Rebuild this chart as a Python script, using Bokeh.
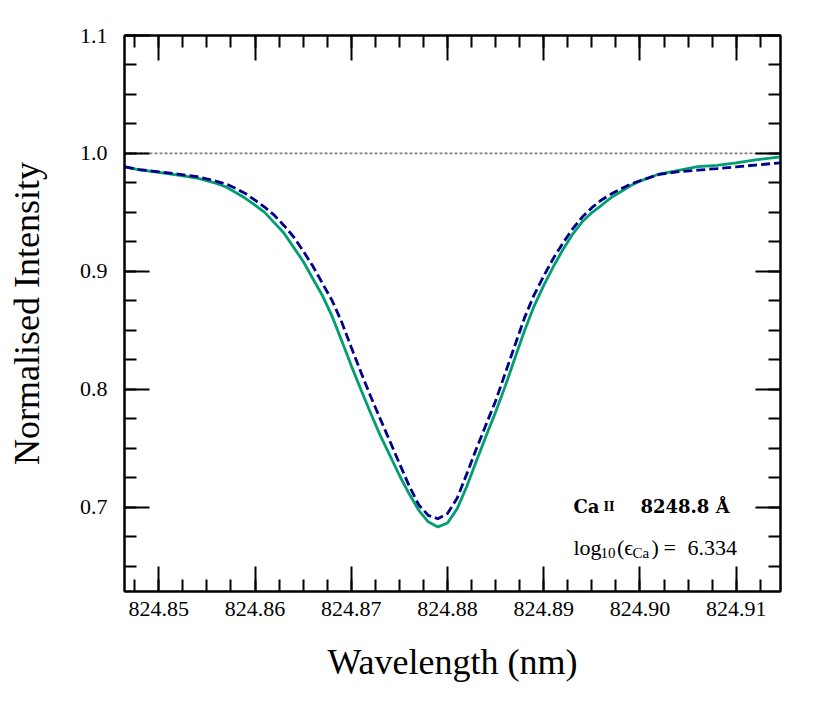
from bokeh.plotting import figure
from bokeh.models import Range1d, LinearAxis, SingleIntervalTicker, Span, Label, PrintfTickFormatter
from bokeh.embed import file_html
from bokeh.resources import INLINE

# ---------------- data ----------------
wavelength_nm = [824.8465, 824.848, 824.850, 824.852, 824.854, 824.856, 824.857, 824.858,
                 824.859, 824.860, 824.861, 824.862, 824.863, 824.864, 824.865, 824.866,
                 824.867, 824.868, 824.869, 824.870, 824.871, 824.872, 824.873, 824.874,
                 824.875, 824.876, 824.877, 824.878, 824.879, 824.880, 824.881, 824.882,
                 824.883, 824.884, 824.885, 824.886, 824.887, 824.888, 824.889, 824.890,
                 824.891, 824.892, 824.893, 824.894, 824.895, 824.896, 824.897, 824.898,
                 824.899, 824.900, 824.902, 824.904, 824.906, 824.908, 824.910, 824.912,
                 824.9146]

observed_intensity = [0.9885, 0.9860, 0.9840, 0.9815, 0.9790, 0.9745, 0.9715, 0.9668,
                      0.9619, 0.9561, 0.9500, 0.9413, 0.9325, 0.9205, 0.9085, 0.8939,
                      0.8795, 0.8620, 0.8412, 0.8200, 0.7998, 0.7800, 0.7610, 0.7440,
                      0.7270, 0.7115, 0.6975, 0.6875, 0.6832, 0.6865, 0.6985, 0.7175,
                      0.7390, 0.7600, 0.7807, 0.8026, 0.8262, 0.8495, 0.8705, 0.8880,
                      0.9040, 0.9185, 0.9315, 0.9420, 0.9498, 0.9560, 0.9625, 0.9675,
                      0.9725, 0.9765, 0.9825, 0.9855, 0.9887, 0.9898, 0.9920, 0.9945,
                      0.9970]

model_intensity = [0.9886, 0.9862, 0.9844, 0.9824, 0.9803, 0.9763, 0.9740, 0.9703,
                   0.9660, 0.9603, 0.9545, 0.9476, 0.9389, 0.9293, 0.9173, 0.9045,
                   0.8899, 0.8753, 0.8571, 0.8355, 0.8145, 0.7942, 0.7750, 0.7562,
                   0.7371, 0.7183, 0.7020, 0.6930, 0.6901, 0.6945, 0.7075, 0.7280,
                   0.7494, 0.7699, 0.7900, 0.8136, 0.8371, 0.8605, 0.8800, 0.8960,
                   0.9110, 0.9240, 0.9360, 0.9460, 0.9540, 0.9605, 0.9655, 0.9698,
                   0.9738, 0.9768, 0.9822, 0.9845, 0.9858, 0.9871, 0.9886, 0.9901,
                   0.9920]

continuum_level = 1.0
x_limits = (824.84644, 824.91460)
y_limits = (0.6284, 1.1)

line_name = ("Ca", "II", "8248.8 Å")
abundance_text = ("log", "10", "(ϵ", "Ca", ")", "=", "6.334")

# ---------------- figure ----------------
FRAME_L, FRAME_T, FRAME_W, FRAME_H = 124, 35, 656, 556
SERIF = "Liberation Serif"

p = figure(frame_width=FRAME_W, frame_height=FRAME_H,
           min_border_left=124, min_border_right=42, min_border_top=35, min_border_bottom=113,
           x_range=Range1d(*x_limits), y_range=Range1d(*y_limits),
           output_backend="svg", toolbar_location=None, x_axis_type=None, y_axis_type=None)
p.xgrid.visible = False
p.ygrid.visible = False
p.outline_line_color = "black"
p.outline_line_width = 2
p.background_fill_color = "white"
p.border_fill_color = "white"


def make_axis(kind, labels):
    if kind == "x":
        ticker = SingleIntervalTicker(interval=0.01, num_minor_ticks=4)
        fmt = PrintfTickFormatter(format="%.2f")
    else:
        ticker = SingleIntervalTicker(interval=0.1, num_minor_ticks=4)
        fmt = PrintfTickFormatter(format="%.1f")
    ax = LinearAxis(ticker=ticker, formatter=fmt)
    ax.major_tick_in = 25
    ax.major_tick_out = 0
    ax.minor_tick_in = 12
    ax.minor_tick_out = 0
    ax.major_tick_line_width = 2
    ax.minor_tick_line_width = 2
    ax.major_tick_line_color = "black"
    ax.minor_tick_line_color = "black"
    ax.axis_line_width = 2
    ax.axis_line_color = "black"
    if labels:
        ax.major_label_text_font = SERIF
        ax.major_label_text_font_size = "22px"
        ax.major_label_text_color = "black"
        ax.axis_label_text_font = SERIF
        ax.axis_label_text_font_size = "36px"
        ax.axis_label_text_font_style = "normal"
        ax.axis_label_text_color = "black"
    else:
        ax.major_label_text_color = None
        ax.major_label_text_font_size = "1px"
        ax.major_label_standoff = 0
    return ax


xb = make_axis("x", True)
xb.axis_label = "Wavelength (nm)"
xb.major_label_standoff = 10
xb.axis_label_standoff = 23
p.add_layout(xb, "below")

yl = make_axis("y", True)
yl.axis_label = "Normalised Intensity"
yl.major_label_standoff = 17
yl.axis_label_standoff = 30
p.add_layout(yl, "left")

p.add_layout(make_axis("x", False), "above")
p.add_layout(make_axis("y", False), "right")

p.add_layout(Span(location=continuum_level, dimension="width", line_color="#7f7f7f",
                  line_width=1.8, line_dash="3 2", level="underlay"))

p.line(wavelength_nm, observed_intensity, line_color="#009E73", line_width=2.8)
p.line(wavelength_nm, model_intensity, line_color="#00008B", line_width=2.8, line_dash="9 4")


# ---------------- annotation ----------------
def to_data(px, py):
    x = x_limits[0] + (px - FRAME_L) / FRAME_W * (x_limits[1] - x_limits[0])
    y = y_limits[1] - (py - FRAME_T) / FRAME_H * (y_limits[1] - y_limits[0])
    return x, y


def put(text, px, py, size, font=SERIF, style="normal", align="left"):
    x, y = to_data(px, py)
    p.add_layout(Label(x=x, y=y, text=text, text_font=font, text_font_size=size,
                       text_font_style=style, text_align=align, text_baseline="alphabetic",
                       text_color="black"))


put(line_name[0], 573, 506, "18px", font="DejaVu Serif", style="bold")
put(line_name[1], 603, 506, "12px", font="DejaVu Serif", style="bold")
put(line_name[2], 640, 506, "18px", font="DejaVu Serif", style="bold")

put(abundance_text[0], 573, 547, "22px")
put(abundance_text[1], 600, 552, "15px")
put(abundance_text[2], 616.5, 547, "22px")
put(abundance_text[3], 632, 552, "15px")
put(abundance_text[4], 651, 547, "22px")
put(abundance_text[5], 663, 547, "22px")
put(abundance_text[6], 687, 547, "22px")

open("out.html", "w").write(file_html(p, INLINE))
